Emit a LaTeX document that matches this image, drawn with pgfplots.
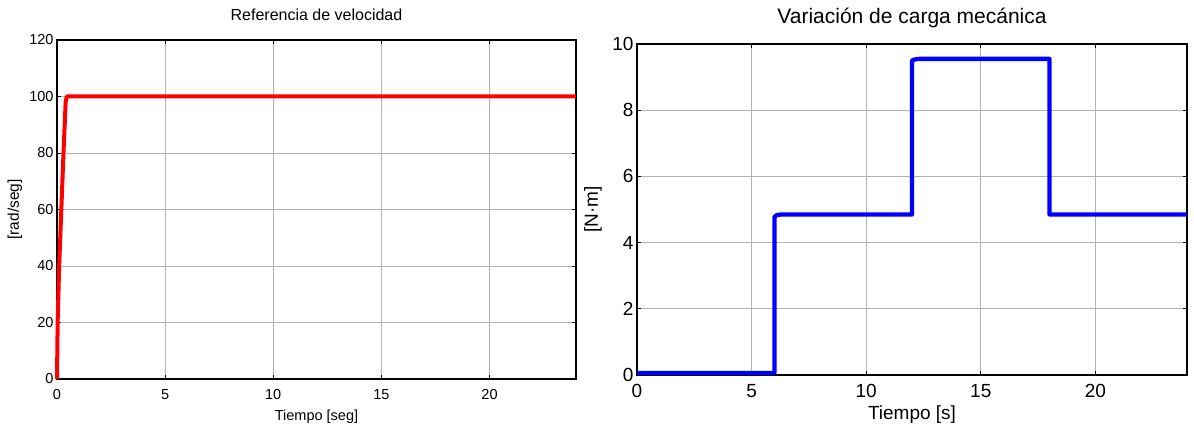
\documentclass[border=0pt]{standalone}
\usepackage{fontspec}
\setmainfont{Liberation Sans}
\usepackage{pgfplots}
\pgfplotsset{compat=1.18}

\pgfplotsset{
    panel/.style={
        scale only axis,
        xmin=0, xmax=24,
        xtick={0,5,10,15,20},
        grid=major,
        grid style={line width=0.8pt, black!30},
        axis line style={line width=1.2pt},
        tick align=inside,
        major tick length=4pt,
        tick style={line width=0.8pt, black},
        /pgf/number format/assume math mode=true,
        clip=false,
    }
}

\begin{document}
\begin{tikzpicture}
    \useasboundingbox (0,0) rectangle (1194pt,426pt);

    % Left panel: speed reference
    \begin{axis}[
            panel,
            at={(57pt,47pt)},
            anchor=south west,
            width=519pt,
            height=339pt,
            ymin=0, ymax=120,
            ytick={0,20,40,60,80,100,120},
            ticklabel style={font=\fontsize{14.5}{16}\selectfont},
            xticklabel style={anchor=base, yshift=-20pt},
            title={Referencia de velocidad},
            title style={at={(axis description cs:0.5,1)}, anchor=base, yshift=13pt,
                font=\fontsize{16}{18}\selectfont},
            xlabel={Tiempo [seg]},
            xlabel style={at={(axis description cs:0.5,0)}, anchor=base, yshift=-41pt,
                font=\fontsize{14.5}{16}\selectfont},
            ylabel={[rad/seg]},
            ylabel style={at={(axis description cs:-0.081,0.5)}, anchor=center,
                font=\fontsize{15.5}{17}\selectfont},
        ]
        \addplot[color=red, line width=4pt, line join=round] coordinates {
            (0,0) (0.03,20) (0.1,40) (0.2,60) (0.3,80) (0.4,98) (0.45,100) (24,100)
        };
    \end{axis}

    % Right panel: mechanical load
    \begin{axis}[
            panel,
            at={(637pt,51pt)},
            anchor=south west,
            width=550pt,
            height=331pt,
            ymin=0, ymax=10,
            ytick={0,2,4,6,8,10},
            ticklabel style={font=\fontsize{19}{21}\selectfont},
            xticklabel style={anchor=base, yshift=-22pt},
            title={Variación de carga mecánica},
            title style={at={(axis description cs:0.5,1)}, anchor=base, yshift=14pt,
                font=\fontsize{21}{24}\selectfont},
            xlabel={Tiempo [s]},
            xlabel style={at={(axis description cs:0.5,0)}, anchor=base, yshift=-44pt,
                font=\fontsize{19}{21}\selectfont},
            ylabel={[N·m]},
            ylabel style={at={(axis description cs:-0.08,0.5)}, anchor=center,
                font=\fontsize{19}{21}\selectfont},
        ]
        \addplot[color=blue, line width=4.3pt, line join=round] coordinates {
            (0,0.06) (6,0.06) (6,4.78) (6.1,4.83) (6.3,4.85) (12,4.85)
            (12,9.5) (12.1,9.53) (12.3,9.55) (18,9.55) (18,4.85) (24,4.85)
        };
    \end{axis}
\end{tikzpicture}
\end{document}
